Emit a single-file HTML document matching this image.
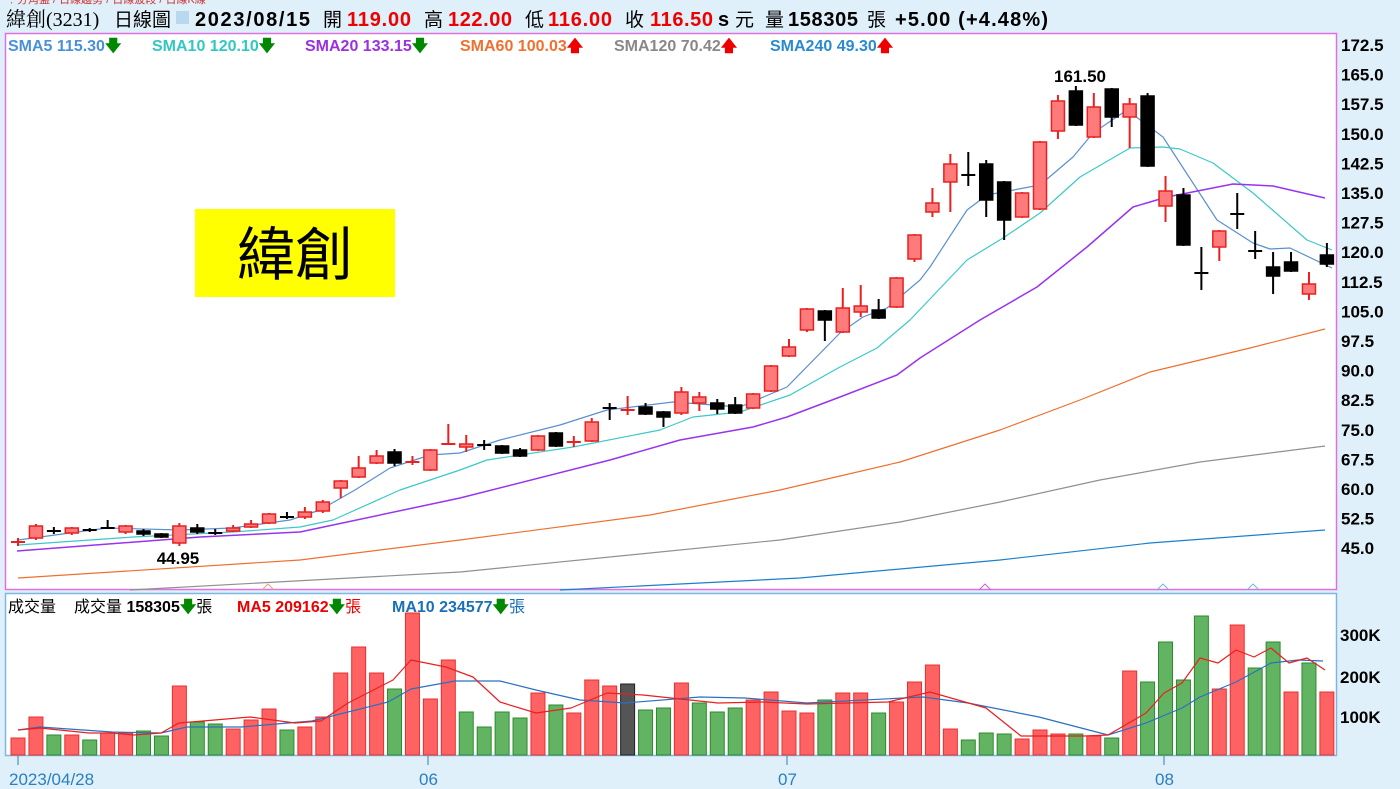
<!DOCTYPE html>
<html><head><meta charset="utf-8">
<style>
html,body{margin:0;padding:0;background:#dff0fa;}
body{width:1400px;height:789px;overflow:hidden;font-family:"Liberation Sans","Noto Sans CJK TC",sans-serif;}
svg{display:block}
</style></head><body>
<svg id="s" width="1400" height="789" xmlns="http://www.w3.org/2000/svg" font-family="Liberation Sans, Noto Sans CJK TC, sans-serif">
<rect x="0" y="0" width="1400" height="789" fill="#dff0fa"/>
<text x="6" y="3" font-size="11" fill="#c33">﹒分角盤 / 日線趨勢 / 日線波段 / 日線K線</text>
<g font-size="20" font-weight="bold">
<text x="6" y="26" font-weight="normal" font-family="Liberation Serif, Noto Serif CJK SC, serif" font-size="20">緯創(3231)</text>
<text x="114" y="26" font-weight="normal" font-size="19">日線圖</text>
<rect x="176" y="11" width="13" height="13" fill="#b8d8f0"/>
<text x="195" y="26" textLength="115">2023/08/15</text>
<text x="323" y="26" font-weight="normal" font-size="19">開</text><text x="347" y="26" fill="#e00" textLength="64">119.00</text>
<text x="424" y="26" font-weight="normal" font-size="19">高</text><text x="448" y="26" fill="#e00" textLength="64">122.00</text>
<text x="525" y="26" font-weight="normal" font-size="19">低</text><text x="548" y="26" fill="#e00" textLength="64">116.00</text>
<text x="625" y="26" font-weight="normal" font-size="19">收</text><text x="650" y="26" fill="#e00" textLength="63">116.50</text>
<text x="718" y="26">s</text><text x="735" y="26" font-weight="normal" font-size="19">元</text>
<text x="765" y="26" font-weight="normal" font-size="19">量</text><text x="788" y="26" textLength="70">158305</text>
<text x="867" y="26" font-weight="normal" font-size="19">張</text>
<text x="895" y="26" textLength="153">+5.00 (+4.48%)</text>
</g>
<rect x="5.5" y="33.5" width="1331" height="556" fill="#fff" stroke="#e070e0" stroke-width="1.5"/>
<rect x="5.5" y="593.5" width="1331" height="162" fill="#fff" stroke="#7ab8e0" stroke-width="1.5"/>
<g font-size="16" font-weight="bold">
<text x="8" y="51" fill="#4a90d9">SMA5 115.30<tspan fill="#080">🡇</tspan></text>
<text x="152" y="51" fill="#30c8c0">SMA10 120.10<tspan fill="#080">🡇</tspan></text>
<text x="305" y="51" fill="#9a30e0">SMA20 133.15<tspan fill="#080">🡇</tspan></text>
<text x="460" y="51" fill="#f07030">SMA60 100.03<tspan fill="#e00">🡅</tspan></text>
<text x="614" y="51" fill="#888">SMA120 70.42<tspan fill="#e00">🡅</tspan></text>
<text x="770" y="51" fill="#2a8ad0">SMA240 49.30<tspan fill="#e00">🡅</tspan></text>
</g>
<rect x="195" y="209" width="200" height="88" fill="#ffff00"/>
<text x="295" y="275" font-size="58" text-anchor="middle" fill="#000" font-family="Noto Sans CJK TC, sans-serif">緯創</text>
<g id="axis" font-size="17" font-weight="bold" fill="#000"></g>
<g id="ma"></g>
<g id="c"></g>
<g id="v"></g>
<text x="1080" y="82" font-size="17" font-weight="bold" text-anchor="middle">161.50</text>
<text x="178" y="564" font-size="17" font-weight="bold" text-anchor="middle">44.95</text>
<g font-size="16">
<text x="8" y="612">成交量</text>
<text x="74" y="612">成交量 <tspan font-weight="bold">158305</tspan><tspan fill="#080" font-weight="bold">🡇</tspan>張</text>
<text x="237" y="612" fill="#e00"><tspan font-weight="bold">MA5 209162</tspan><tspan fill="#080" font-weight="bold">🡇</tspan>張</text>
<text x="392" y="612" fill="#1a70b8"><tspan font-weight="bold">MA10 234577</tspan><tspan fill="#080" font-weight="bold">🡇</tspan>張</text>
</g>
<g font-size="17" font-weight="bold">
<text x="1340" y="641">300K</text><text x="1340" y="683">200K</text><text x="1340" y="723">100K</text>
</g>
<g font-size="17" fill="#2a7fc0" stroke="#2a7fc0">
<line x1="18" y1="756" x2="18" y2="765"/><line x1="428" y1="756" x2="428" y2="765"/>
<line x1="787" y1="756" x2="787" y2="765"/><line x1="1164" y1="756" x2="1164" y2="765"/>
<text x="9" y="785" stroke="none">2023/04/28</text>
<text x="419" y="785" stroke="none">06</text>
<text x="778" y="785" stroke="none">07</text>
<text x="1155" y="785" stroke="none">08</text>
</g>
</svg>
<script>
var NS="http://www.w3.org/2000/svg";
function el(p,t,a,txt){var e=document.createElementNS(NS,t);for(var k in a)e.setAttribute(k,a[k]);if(txt)e.textContent=txt;document.getElementById(p).appendChild(e);return e;}
var labs=["172.5","165.0","157.5","150.0","142.5","135.0","127.5","120.0","112.5","105.0","97.5","90.0","82.5","75.0","67.5","60.0","52.5","45.0"];
labs.forEach(function(l,i){el("axis","text",{x:1341,y:51+i*29.6},l);});
var C=[[541,542,538,546,'r'],[526,538,524,540,'r'],[530,531,527,534,'k'],[528,533,527,535,'r'],[529,531,528,532,'k'],[527,528,520,529,'k'],[526,532,525,534,'r'],[531,534,529,536,'k'],[534,537,533,538,'k'],[526,543,523,546,'r'],[528,532,524,534,'k'],[532,533,529,535,'k'],[528,531,525,532,'r'],[524,527,520,528,'r'],[514,523,513,524,'r'],[516,517,512,519,'k'],[512,517,507,519,'r'],[502,511,500,513,'r'],[481,488,480,498,'r'],[468,477,456,478,'r'],[456,463,450,464,'r'],[452,463,449,466,'k'],[461,462,456,465,'r'],[450,470,449,471,'r'],[443,444,424,445,'r'],[444,447,435,452,'r'],[444,445,440,450,'k'],[446,453,445,454,'k'],[450,456,448,457,'k'],[436,450,435,451,'r'],[433,446,432,447,'k'],[441,442,436,447,'r'],[422,441,418,442,'r'],[407,408,403,420,'k'],[409,410,396,415,'r'],[407,414,403,415,'k'],[412,417,411,427,'k'],[392,413,387,415,'r'],[397,403,392,411,'r'],[403,409,399,414,'k'],[405,413,397,414,'k'],[394,408,393,409,'r'],[366,391,365,392,'r'],[347,356,339,357,'r'],[309,330,308,332,'r'],[311,320,310,341,'k'],[308,332,288,333,'r'],[306,312,285,317,'r'],[310,318,299,319,'k'],[278,307,277,308,'r'],[235,259,234,262,'r'],[203,212,188,217,'r'],[164,182,154,212,'r'],[174,175,152,186,'k'],[164,200,160,217,'k'],[182,220,181,240,'k'],[193,217,192,218,'r'],[142,209,141,210,'r'],[101,131,95,139,'r'],[91,125,86,126,'k'],[107,137,93,138,'r'],[89,117,88,127,'k'],[104,117,98,148,'r'],[96,166,93,167,'k'],[191,206,176,222,'r'],[195,245,188,246,'k'],[272,273,247,290,'k'],[231,247,230,261,'r'],[213,214,193,229,'k'],[250,251,231,259,'k'],[267,276,252,294,'k'],[262,271,252,272,'k'],[284,294,272,300,'r'],[255,264,243,267,'k']];
function X(i){return 18+i*17.93;}
C.forEach(function(c,i){var x=X(i),col=c[4]=='r'?'#e82020':'#000',fill=c[4]=='r'?'#ff7b7b':'#000';
el("c","line",{x1:x,y1:c[2],x2:x,y2:c[3],stroke:col,"stroke-width":2});
if(c[1]-c[0]<=2){el("c","rect",{x:x-7,y:c[0],width:14,height:2,fill:col});}
else el("c","rect",{x:x-6.5,y:c[0],width:13,height:c[1]-c[0],fill:fill,stroke:col,"stroke-width":1.5});});
var V=[738,717,735,735,740,733,733,731,736,686,722,724,729,720,709,730,727,717,673,647,673,689,613,699,660,712,727,712,718,693,705,713,680,686,684,710,708,683,703,712,708,700,692,711,713,700,693,693,713,702,682,665,729,740,733,734,739,730,734,734,736,738,671,682,642,680,616,689,625,668,642,692,663,692];
var cols=['r','r','g','r','g','r','r','g','g','r','g','g','r','r','r','g','r','r','r','r','r','g','r','r','r','g','g','g','g','r','g','r','r','r','d','g','g','r','g','g','g','r','r','r','r','g','r','r','g','r','r','r','r','g','g','g','r','r','r','g','r','g','r','g','g','g','g','r','r','g','g','r','g','r'];
V.forEach(function(t,i){var x=X(i),k=cols[i],f=k=='r'?'#ff6262':k=='g'?'#62b462':'#555',s=k=='r'?'#e83030':k=='g'?'#2e8a2e':'#222';
el("v","rect",{x:x-7,y:t,width:14,height:755-t,fill:f,stroke:s,"stroke-width":1});});
function pl(pts,col,w,g){el(g||"ma","polyline",{points:pts,fill:"none",stroke:col,"stroke-width":w||1.2,"stroke-linejoin":"round"});}
pl("18,540 107,528 180,530 232,528 290,520 320,510 355,490 390,468 430,455 460,453 500,440 560,425 607,410 673,402 740,407 787,387 840,333 863,317 887,308 920,280 930,267 967,210 987,195 1040,185 1073,157 1093,133 1127,110 1163,137 1217,220 1253,243 1270,249 1290,248 1332,268","#5a90d0");
pl("18,545 133,537 233,532 300,527 333,520 400,490 460,470 487,460 573,447 660,430 693,417 740,412 790,395 840,367 877,348 910,320 967,260 1003,238 1040,213 1080,177 1130,148 1163,147 1180,149 1213,163 1253,193 1307,240 1332,250","#3cc8c8");
pl("17,551 200,537 300,532 333,525 460,498 610,460 680,440 753,427 787,417 840,397 897,375 920,358 980,320 1037,287 1087,247 1133,207 1167,197 1233,184 1273,186 1325,198","#9933ee",1.5);
pl("18,578 300,560 460,540 650,515 780,490 900,462 1000,430 1080,400 1150,372 1250,348 1325,329","#ee7030");
pl("130,590 460,572 780,540 900,522 1000,502 1100,480 1200,462 1325,446","#909090");
pl("560,590 800,578 1000,560 1150,543 1325,530","#1a80cc");
pl("18,730 40,727 112,732 161,733 187,727 241,727 312,721 388,702 411,689 455,681 500,681 536,690 580,700 625,703 700,697 745,698 807,703 923,697 968,703 1039,717 1108,735 1146,723 1182,708 1200,697 1236,682 1271,663 1298,660 1323,661","#2a70c0",1.2,"v");
pl("18,730 40,728 89,733 112,733 134,735 161,733 179,723 250,717 295,723 321,721 348,703 393,680 411,660 446,667 473,677 500,702 536,713 571,708 607,693 643,695 718,703 762,702 807,704 888,702 930,692 986,708 1021,736 1084,736 1108,735 1146,713 1164,693 1182,683 1200,658 1218,663 1236,650 1254,657 1271,648 1289,663 1307,658 1325,670","#e82020",1.2,"v");
[268,985,1163,1253].forEach(function(x){pl((x-6)+",590 "+x+",584 "+(x+6)+",590",x==268?"#e8a080":(x==985?"#c060e0":"#60c0e0"),1);});
</script>
</body></html>
